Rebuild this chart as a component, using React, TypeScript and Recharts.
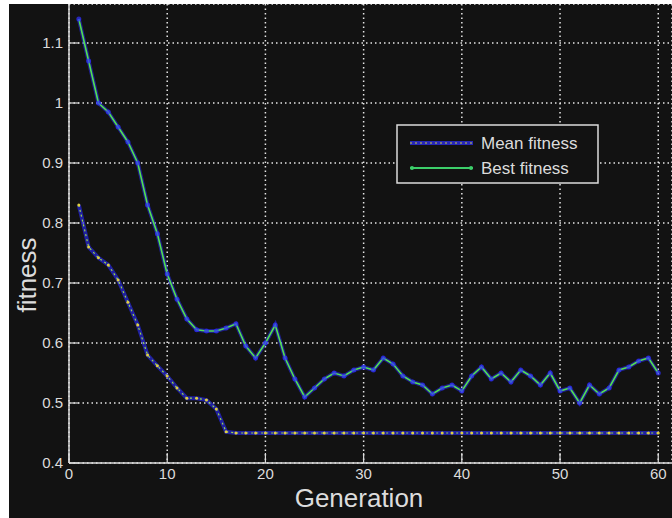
import React from "react";
import { LineChart, Line, XAxis, YAxis, CartesianGrid } from "recharts";

const generations = [
  1, 2, 3, 4, 5, 6, 7, 8, 9, 10, 11, 12, 13, 14, 15, 16, 17, 18, 19, 20,
  21, 22, 23, 24, 25, 26, 27, 28, 29, 30, 31, 32, 33, 34, 35, 36, 37, 38, 39, 40,
  41, 42, 43, 44, 45, 46, 47, 48, 49, 50, 51, 52, 53, 54, 55, 56, 57, 58, 59, 60,
];

const meanFitness = [
  1.14, 1.07, 1.0, 0.985, 0.96, 0.935, 0.9, 0.83, 0.782, 0.715,
  0.673, 0.64, 0.622, 0.62, 0.62, 0.625, 0.632, 0.595, 0.575, 0.6,
  0.63, 0.575, 0.54, 0.51, 0.525, 0.54, 0.55, 0.545, 0.555, 0.56,
  0.555, 0.575, 0.565, 0.545, 0.535, 0.53, 0.515, 0.525, 0.53, 0.52,
  0.545, 0.56, 0.54, 0.55, 0.535, 0.555, 0.545, 0.53, 0.55, 0.52,
  0.525, 0.5, 0.53, 0.515, 0.525, 0.555, 0.56, 0.57, 0.575, 0.55,
];

const bestFitness = [
  0.83, 0.76, 0.742, 0.73, 0.705, 0.668, 0.63, 0.58, 0.562, 0.545,
  0.525, 0.508, 0.508, 0.505, 0.49, 0.452, 0.45, 0.45, 0.45, 0.45,
  0.45, 0.45, 0.45, 0.45, 0.45, 0.45, 0.45, 0.45, 0.45, 0.45,
  0.45, 0.45, 0.45, 0.45, 0.45, 0.45, 0.45, 0.45, 0.45, 0.45,
  0.45, 0.45, 0.45, 0.45, 0.45, 0.45, 0.45, 0.45, 0.45, 0.45,
  0.45, 0.45, 0.45, 0.45, 0.45, 0.45, 0.45, 0.45, 0.45, 0.45,
];

const xTicks = [0, 10, 20, 30, 40, 50, 60];
const yTicks = [0.4, 0.5, 0.6, 0.7, 0.8, 0.9, 1, 1.1];
const seriesNames = ["Mean fitness", "Best fitness"];
const xTitle = "Generation";
const yTitle = "fitness";

const data = generations.map((g, i) => ({
  gen: g,
  mean: meanFitness[i],
  best: bestFitness[i],
}));

const FG = "#dcdcdc";
const BG = "#121212";
const FONT = "'Liberation Sans', Arial, sans-serif";

const XTick = (props: any) => {
  const { x, y, payload } = props;
  return (
    <g>
      <line x1={x} x2={x} y1={y - 5} y2={y - 15} stroke={FG} strokeWidth={1.2} />
      <text x={x} y={y} dy="0.71em" textAnchor="middle" fill={FG} fontSize={15} fontFamily={FONT}>
        {payload.value}
      </text>
    </g>
  );
};

const YTick = (props: any) => {
  const { x, y, payload } = props;
  return (
    <g>
      <line x1={x + 6} x2={x + 16} y1={y} y2={y} stroke={FG} strokeWidth={1.2} />
      <text x={x} y={y} dy="0.355em" textAnchor="end" fill={FG} fontSize={15} fontFamily={FONT}>
        {payload.value}
      </text>
    </g>
  );
};

export default function App() {
  return (
    <div
      style={{
        position: "absolute",
        left: 9,
        top: 4,
        width: 663,
        height: 514,
        background: BG,
        overflow: "hidden",
        fontFamily: FONT,
      }}
    >
      <LineChart width={663} height={514} data={data} margin={{ top: 0, right: 0, bottom: 0, left: 0 }}>
        <CartesianGrid stroke="#e6e6e6" strokeDasharray="1.5 3" strokeWidth={1.5} />
        <XAxis
          type="number"
          dataKey="gen"
          domain={[0, 61.4]}
          ticks={xTicks}
          allowDataOverflow
          height={55}
          tickSize={0}
          tickMargin={5}
          tick={<XTick />}
          axisLine={{ stroke: FG, strokeWidth: 1.5 }}
          interval={0}
        />
        <YAxis
          type="number"
          domain={[0.4, 1.165]}
          ticks={yTicks}
          allowDataOverflow
          width={60}
          tickSize={0}
          tickMargin={6}
          tick={<YTick />}
          axisLine={{ stroke: FG, strokeWidth: 1.5 }}
          interval={0}
        />
        <Line
          dataKey="best"
          stroke="#2a2aff"
          strokeWidth={4}
          strokeOpacity={0.6}
          dot={false}
          isAnimationActive={false}
        />
        <Line
          dataKey="best"
          stroke="#9bd84a"
          strokeWidth={1.2}
          strokeDasharray="2 3"
          dot={{ r: 1.5, fill: "#e0d040", stroke: "none" }}
          isAnimationActive={false}
        />
        <Line
          dataKey="mean"
          stroke="#2a2aff"
          strokeWidth={4}
          strokeOpacity={0.5}
          dot={{ r: 2.5, fill: "#3030ff", stroke: "none", fillOpacity: 0.7 }}
          isAnimationActive={false}
        />
        <Line
          dataKey="mean"
          stroke="#52e052"
          strokeWidth={1.6}
          dot={false}
          isAnimationActive={false}
        />
      </LineChart>

      <svg
        width={663}
        height={514}
        style={{ position: "absolute", left: 0, top: 0, pointerEvents: "none" }}
      >
        <text x={350} y={503} textAnchor="middle" fill={FG} fontSize={26} fontFamily={FONT}>
          {xTitle}
        </text>
        <text
          transform="translate(27, 271) rotate(-90)"
          textAnchor="middle"
          fill={FG}
          fontSize={26}
          fontFamily={FONT}
        >
          {yTitle}
        </text>
        <g transform="translate(388, 121)">
          <rect x={0} y={0} width={201} height={58} fill={BG} stroke={FG} strokeWidth={1.5} />
          <line x1={13} x2={76} y1={18} y2={18} stroke="#3030ff" strokeWidth={4} strokeOpacity={0.7} />
          <line x1={13} x2={76} y1={18} y2={18} stroke="#c8d040" strokeWidth={1.2} strokeDasharray="2 3" />
          <text x={84} y={18} dy="0.355em" fill={FG} fontSize={17} fontFamily={FONT}>
            {seriesNames[0]}
          </text>
          <line x1={13} x2={76} y1={43} y2={43} stroke="#3ccf6a" strokeWidth={1.8} />
          <circle cx={15} cy={43} r={2} fill="#3ccf6a" />
          <circle cx={74} cy={43} r={2} fill="#3ccf6a" />
          <text x={84} y={43} dy="0.355em" fill={FG} fontSize={17} fontFamily={FONT}>
            {seriesNames[1]}
          </text>
        </g>
      </svg>
    </div>
  );
}
